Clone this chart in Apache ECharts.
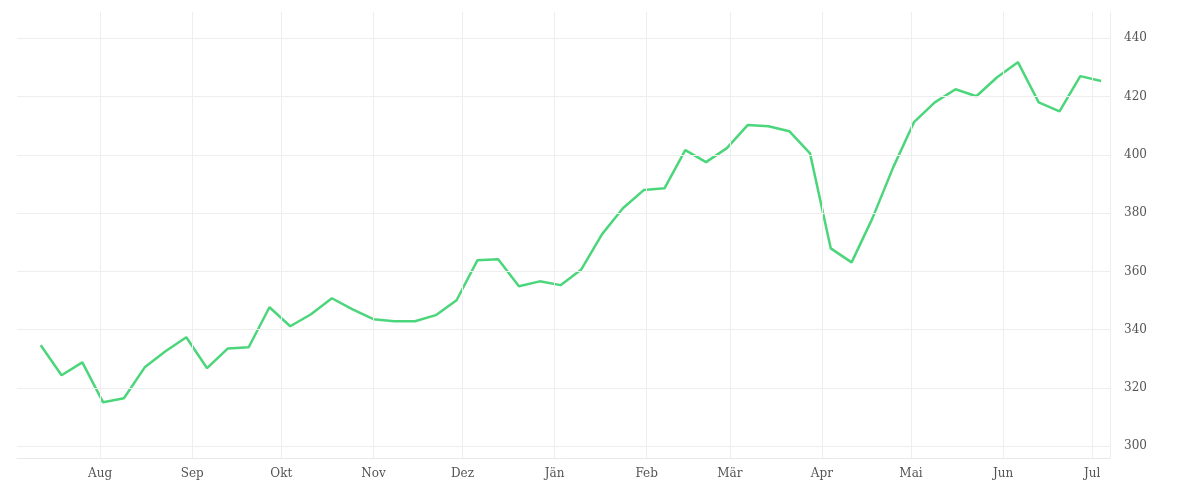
<!DOCTYPE html>
<html><head><meta charset="utf-8">
<script src="https://cdn.jsdelivr.net/npm/echarts@6/dist/echarts.min.js"></script>
<style>html,body{margin:0;padding:0;background:#fff}#main{width:1200px;height:500px}</style>
</head><body><div id="main"></div>
<script>
// weekly values, starting 2022-07-12
const startDate = '2022-07-12';
const values = [334.7, 324.4, 328.8, 315.1, 316.5, 327.1, 332.6, 337.4, 326.8, 333.6,
	334.0, 347.7, 341.2, 345.3, 350.8, 347.0, 343.6, 342.9, 342.9, 345.0,
	350.1, 363.8, 364.2, 354.9, 356.6, 355.3, 360.7, 372.8, 381.7, 387.9,
	388.5, 401.6, 397.5, 402.3, 410.2, 409.8, 408.1, 400.5, 367.9, 363.1,
	378.2, 395.7, 411.2, 418.0, 422.5, 420.1, 426.6, 431.8, 418.0, 414.9,
	427.0, 425.3];
const monthNames = ['Jän', 'Feb', 'Mär', 'Apr', 'Mai', 'Jun', 'Jul', 'Aug', 'Sep', 'Okt', 'Nov', 'Dez'];
const monthStarts = ['2022-08-01', '2022-09-01', '2022-10-01', '2022-11-01', '2022-12-01', '2023-01-01',
	'2023-02-01', '2023-03-01', '2023-04-01', '2023-05-01', '2023-06-01', '2023-07-01'];
const yTicks = [300, 320, 340, 360, 380, 400, 420, 440];

const t0 = new Date(startDate + 'T00:00:00Z').getTime();
const seriesData = values.map(function (v, i) { return [t0 + i * 7 * 86400000, v]; });

const labelStyle = { color: '#555', fontSize: 12, fontFamily: 'DejaVu Serif' };
const gridLine = { color: '#eeeeee', type: 'solid', width: 1 };

// gitterlinien + beschriftung als markLine
const xLines = monthStarts.map(function (d) {
	const t = new Date(d + 'T00:00:00Z').getTime();
	return {
		xAxis: t,
		label: Object.assign({ show: true, position: 'start', distance: 10,
			formatter: monthNames[new Date(t).getUTCMonth()] }, labelStyle)
	};
});
const yLines = yTicks.map(function (v) {
	return {
		yAxis: v,
		label: Object.assign({ show: true, position: 'end', distance: 14, formatter: String(v) }, labelStyle)
	};
});

const chart = echarts.init(document.getElementById('main'));
chart.setOption({
	animation: false,
	grid: { left: 17, right: 90, top: 12, bottom: 42 },
	xAxis: {
		type: 'time',
		min: new Date('2022-07-04T00:00:00Z').getTime(),
		max: new Date('2023-07-07T00:00:00Z').getTime(),
		axisLine: { show: true, lineStyle: { color: '#e8e8e8' } },
		axisTick: { show: false },
		splitLine: { show: false },
		axisLabel: { show: false }
	},
	yAxis: {
		type: 'value',
		position: 'right',
		min: 296,
		max: 449,
		axisLine: { show: true, lineStyle: { color: '#eeeeee' } },
		axisTick: { show: false },
		splitLine: { show: false },
		axisLabel: { show: false }
	},
	series: [{
		type: 'line',
		data: seriesData,
		showSymbol: false,
		z: 3,
		lineStyle: { color: '#4cd67b', width: 2.5 },
		itemStyle: { color: '#4cd67b' },
		markLine: {
			silent: true,
			symbol: ['none', 'none'],
			lineStyle: gridLine,
			data: xLines.concat(yLines)
		}
	}]
});
</script>
</body></html>
